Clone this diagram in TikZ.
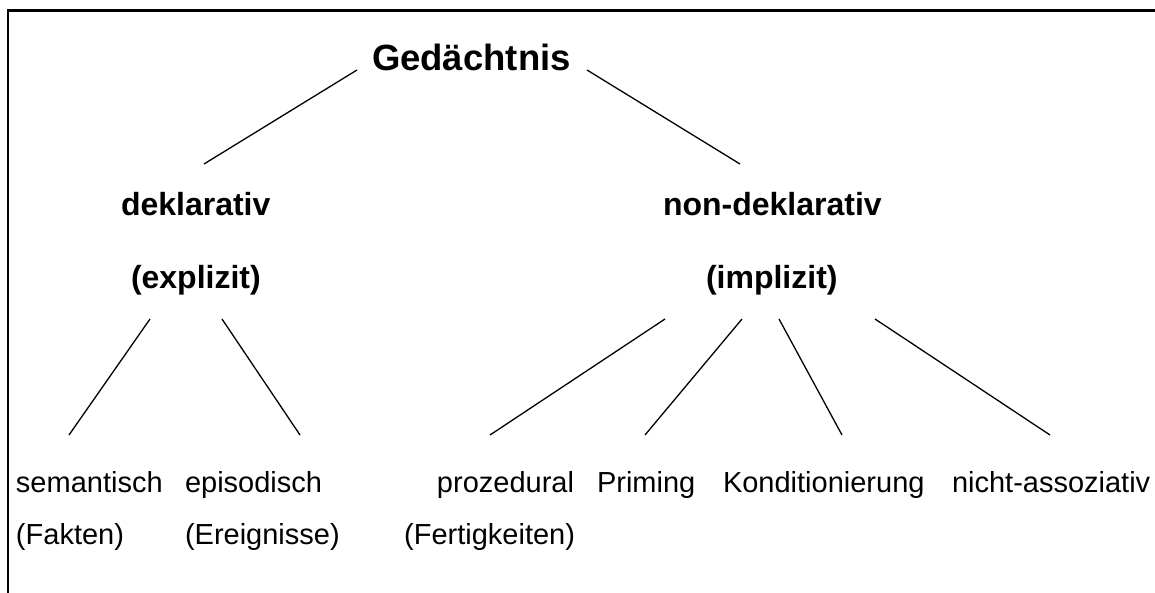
\documentclass[tikz,border=0pt]{standalone}
\usepackage{fontspec}
\setmainfont{Liberation Sans}
\begin{document}
\begin{tikzpicture}[x=1pt,y=-1pt,
  lbl/.style={anchor=base west, inner sep=0pt, outer sep=0pt},
  titlelbl/.style={lbl, font=\bfseries\fontsize{36.5}{40}\selectfont},
  midlbl/.style={lbl, font=\bfseries\fontsize{32}{38}\selectfont},
  leaflbl/.style={lbl, font=\fontsize{29}{34}\selectfont},
  conn/.style={line width=1.3pt},
  framestyle/.style={line width=2.5pt}]
\useasboundingbox (0,0) rectangle (1155,593);
% frame (only top and left edges visible)
\coordinate (ftr) at (1155,10.5);
\coordinate (ftl) at (8,10.5);
\coordinate (fbl) at (8,593);
\draw[framestyle] (ftr) -- (ftl) -- (fbl);
% labels
\node[titlelbl] (ged) at (372,71) {Gedächtnis};
\node[midlbl] (dek) at (121,216) {deklarativ};
\node[midlbl] (exp) at (131,288) {(explizit)};
\node[midlbl] (ndek) at (663,216) {non-deklarativ};
\node[midlbl] (imp) at (706,288) {(implizit)};
\node[leaflbl] (sem) at (16,492) {semantisch};
\node[leaflbl] (fak) at (16,544) {(Fakten)};
\node[leaflbl] (epi) at (185,492) {episodisch};
\node[leaflbl] (ere) at (185,544) {(Ereignisse)};
\node[leaflbl, anchor=base east] (pro) at (574,492) {prozedural};
\node[leaflbl, anchor=base east] (fer) at (575,544) {(Fertigkeiten)};
\node[leaflbl] (pri) at (597,492) {Priming};
\node[leaflbl] (kon) at (723,492) {Konditionierung};
\node[leaflbl] (nas) at (952,492) {nicht-assoziativ};
% connector end points
\coordinate (gL) at (357,70);  \coordinate (dT) at (204,164);
\coordinate (gR) at (587,70);  \coordinate (nT) at (740,164);
\coordinate (eL) at (150,319); \coordinate (sT) at (69,435);
\coordinate (eR) at (222,319); \coordinate (epT) at (300,435);
\coordinate (i1) at (665,319); \coordinate (prT) at (490,435);
\coordinate (i2) at (742,319); \coordinate (piT) at (645,435);
\coordinate (i3) at (779,319); \coordinate (koT) at (842,435);
\coordinate (i4) at (875,319); \coordinate (naT) at (1050,435);
\draw[conn] (gL) -- (dT);
\draw[conn] (gR) -- (nT);
\draw[conn] (eL) -- (sT);
\draw[conn] (eR) -- (epT);
\draw[conn] (i1) -- (prT);
\draw[conn] (i2) -- (piT);
\draw[conn] (i3) -- (koT);
\draw[conn] (i4) -- (naT);
\end{tikzpicture}
\end{document}
